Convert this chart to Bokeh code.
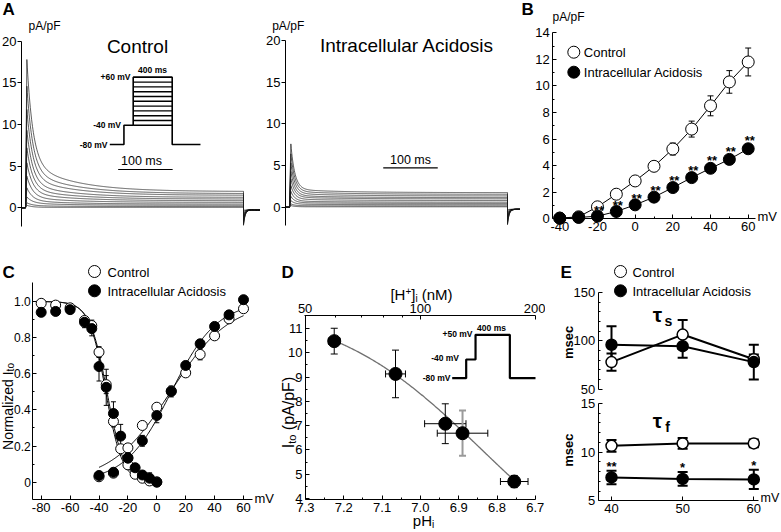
import numpy as np
from bokeh.plotting import figure
from bokeh.models import Range1d, FixedTicker, Label, LinearAxis
from bokeh.layouts import row, column
from bokeh.embed import file_html
from bokeh.resources import INLINE
from bokeh.core.properties import value

FONT = "Liberation Sans"

# ---------------- data ----------------
# Panel A: Ito current traces (pA/pF) for test steps -40..+60 mV
A_STEP_MV = [-40, -30, -20, -10, 0, 10, 20, 30, 40, 50, 60]
A_CTRL_PEAK = [0.3, 0.6, 1.3, 2.4, 3.8, 5.4, 7.2, 9.3, 11.8, 14.6, 17.8]
A_CTRL_SS = [0.05, 0.15, 0.3, 0.45, 0.65, 0.85, 1.05, 1.25, 1.5, 1.7, 1.95]
A_CTRL_SLOW = [0.0, 0.1, 0.25, 0.4, 0.6, 0.9, 1.2, 1.6, 2.1, 2.7, 3.5]
A_ACID_PEAK = [0.2, 0.4, 0.8, 1.3, 1.9, 2.6, 3.4, 4.3, 5.3, 6.4, 7.6]
A_ACID_SS = [0.05, 0.15, 0.3, 0.45, 0.6, 0.8, 1.0, 1.15, 1.35, 1.55, 1.75]
A_ACID_SLOW = [0.0, 0.03, 0.06, 0.1, 0.13, 0.17, 0.2, 0.25, 0.3, 0.35, 0.4]
A_TAIL = [-0.3, -0.5, -0.7, -0.9, -1.1, -1.3, -1.5, -1.7, -1.9, -2.0, -2.1]
A_TAIL_END = -0.25
A_TAU_CTRL = (10.8, 80.0)   # fast, slow (ms)
A_TAU_ACID = (7.3, 90.0)
A_PULSE_MS = 400.0
A_PEAK_MS = 2.5
A_YTICKS = [0, 5, 10, 15, 20]
# voltage protocol (inset)
A_PROT_T = [0, 145, 145, 240, 240, 640, 640, 930]
A_PROT_V = [-80, -80, -40, -40, 60, 60, -80, -80]
A_PROT_STEP_T = [240, 640]

# Panel B: I-V relation
B_MV = [-40, -30, -20, -10, 0, 10, 20, 30, 40, 50, 60]
B_CTRL = [0.05, 0.15, 0.9, 1.85, 2.85, 3.95, 5.25, 6.75, 8.5, 10.3, 11.8]
B_CTRL_ERR = [0.02, 0.05, 0.1, 0.12, 0.22, 0.35, 0.45, 0.6, 0.75, 0.85, 1.05]
B_ACID = [0.05, 0.1, 0.2, 0.55, 1.05, 1.63, 2.35, 3.1, 3.8, 4.47, 5.27]
B_ACID_ERR = [0.02, 0.03, 0.05, 0.1, 0.12, 0.12, 0.15, 0.18, 0.18, 0.22, 0.25]
B_SIG = ["", "", "**", "**", "**", "**", "**", "**", "**", "**", "**"]
B_XTICKS = [-40, -20, 0, 20, 40, 60]
B_XMINOR = [-30, -10, 10, 30, 50]
B_YTICKS = [0, 2, 4, 6, 8, 10, 12, 14]
B_YMINOR = [1, 3, 5, 7, 9, 11, 13]

# Panel C: steady-state inactivation and activation
C_INACT_MV = [-80, -70, -60, -50, -45, -40, -35, -30, -25, -20, -15, -10, -5, 0]
C_INACT_CTRL = [0.99, 0.98, 0.965, 0.895, 0.867, 0.72, 0.54, 0.336, 0.185, 0.096, 0.044, 0.022, 0.007, 0.002]
C_INACT_CTRL_ERR = [0.005, 0.01, 0.01, 0.01, 0.03, 0.03, 0.05, 0.03, 0.02, 0.01, 0.01, 0.01, 0.005, 0.005]
C_INACT_ACID = [0.94, 0.945, 0.955, 0.885, 0.85, 0.64, 0.525, 0.38, 0.255, 0.135, 0.08, 0.04, 0.022, 0.0]
C_INACT_ACID_ERR = [0.01, 0.02, 0.02, 0.03, 0.04, 0.08, 0.1, 0.065, 0.065, 0.03, 0.02, 0.02, 0.03, 0.02]
C_ACT_MV = [-40, -30, -20, -10, 0, 10, 20, 30, 40, 50, 60]
C_ACT_CTRL = [0.03, 0.05, 0.19, 0.314, 0.415, 0.505, 0.605, 0.707, 0.81, 0.904, 0.96]
C_ACT_CTRL_ERR = [0.005, 0.005, 0.01, 0.01, 0.02, 0.02, 0.02, 0.03, 0.01, 0.01, 0.01]
C_ACT_ACID = [0.037, 0.055, 0.133, 0.229, 0.369, 0.502, 0.646, 0.766, 0.862, 0.926, 1.01]
C_ACT_ACID_ERR = [0.01, 0.01, 0.02, 0.03, 0.04, 0.03, 0.02, 0.02, 0.01, 0.01, 0.005]
C_FIT_INACT_CTRL = (-34.5, 6.0)   # V1/2, k
C_FIT_INACT_ACID = (-35.3, 5.8)
C_FIT_ACT_CTRL = (9.5, 20.5)
C_FIT_ACT_ACID = (10.0, 16.0)
C_XTICKS = [-80, -60, -40, -20, 0, 20, 40, 60]
C_YTICKS = [0, 0.2, 0.4, 0.6, 0.8, 1.0]
C_YLABELS = ["0", "0.2", "0.4", "0.6", "0.8", "1.0"]
C_YMINOR = [0.1, 0.3, 0.5, 0.7, 0.9]

# Panel D: Ito vs pHi
D_PH = [7.225, 7.065, 6.935, 6.89, 6.755]
D_PH_ERR = [0.015, 0.026, 0.054, 0.066, 0.036]
D_ITO = [10.48, 9.13, 7.08, 6.69, 4.70]
D_ITO_ERR = [0.53, 0.98, 0.82, 0.93, 0.25]
D_FIT = (12.0, 6.839, 2.19)   # Imax, pK, n
D_XTICKS = [7.3, 7.2, 7.1, 7.0, 6.9, 6.8, 6.7]
D_XLABELS = ["7.3", "7.2", "7.1", "7.0", "6.9", "6.8", "6.7"]
D_XMINOR = [7.25, 7.15, 7.05, 6.95, 6.85, 6.75]
D_YTICKS = [4, 5, 6, 7, 8, 9, 10, 11]
D_YMINOR = [4.5, 5.5, 6.5, 7.5, 8.5, 9.5, 10.5]
D_TOP_NM = [50, 100, 200]
D_TOP_MINOR_NM = [60, 70, 80, 90]
D_PROT_T = [0, 163, 163, 272, 272, 672, 672, 1000]
D_PROT_V = [-80, -80, -40, -40, 50, 50, -80, -80]

# Panel E: inactivation time constants
E_MV = [40, 50, 60]
E_TS_CTRL = [78, 106.5, 81]
E_TS_CTRL_ERR = [9, 15, 5]
E_TS_ACID = [96, 94.5, 78]
E_TS_ACID_ERR = [19, 12, 18]
E_TF_CTRL = [10.65, 10.9, 10.9]
E_TF_CTRL_ERR = [0.6, 0.55, 0.4]
E_TF_ACID = [7.4, 7.25, 7.2]
E_TF_ACID_ERR = [0.7, 0.7, 1.0]
E_SIG = ["**", "*", "*"]
E_XTICKS = [40, 50, 60]
E_TS_TICKS = [50, 100, 150]
E_TS_MINOR = [60, 70, 80, 90, 110, 120, 130, 140]
E_TF_TICKS = [5, 10, 15]
E_TF_MINOR = [6, 7, 8, 9, 11, 12, 13, 14]


# ---------------- layout geometry ----------------
def panel(fig_x, fig_y, w, h, axr, axv, kx, ayr, ayv, ky):
    """Figure rectangle in page px; mapping of page px -> data."""
    x_start = axv - (axr - fig_x) / kx
    y_top = ayv + (ayr - fig_y) / ky
    return dict(w=w, h=h, axr=axr, axv=axv, kx=kx, ayr=ayr, ayv=ayv, ky=ky,
                x0=x_start, x1=x_start + w / kx, y1=y_top, y0=y_top - h / ky)


PA1 = panel(0, 0, 260, 262, 25, 0.0, 0.545, 207.3, 0.0, 8.33)
PA2 = panel(260, 0, 260, 262, 289, 0.0, 0.545, 206.7, 0.0, 8.33)
PB = panel(520, 0, 260, 262, 559.3, -40.0, 1.884, 218.3, 0.0, 13.29)
PC = panel(0, 262, 275, 268, 156.3, 0.0, 1.445, 481.7, 0.0, 180.7)
PD = panel(275, 262, 270, 268, 305, 7.3, -383.0, 328, 11.0, 24.29)
PE1 = panel(545, 262, 235, 134, 611, 40.0, 7.115, 292, 150.0, 0.967)
PE2 = panel(545, 396, 235, 134, 611, 40.0, 7.115, 403, 15.0, 9.73)


def R(P, rx, ry):
    return (P["axv"] + (rx - P["axr"]) / P["kx"], P["ayv"] - (ry - P["ayr"]) / P["ky"])


def make_fig(P):
    p = figure(width=P["w"], height=P["h"],
               x_range=Range1d(P["x0"], P["x1"]), y_range=Range1d(P["y0"], P["y1"]),
               output_backend="svg", toolbar_location=None,
               x_axis_location=None, y_axis_location=None,
               min_border=0, min_border_left=0, min_border_right=0,
               min_border_top=0, min_border_bottom=0)
    p.xgrid.visible = False
    p.ygrid.visible = False
    p.outline_line_color = None
    p.background_fill_color = "white"
    p.border_fill_color = "white"
    return p


def add_axis(p, side, loc, ticks, bounds, labels=None, minor=(), tin=4, tout=0,
             mtin=2, mtout=0, standoff=3, size="13px"):
    ax = LinearAxis(fixed_location=loc)
    ax.ticker = FixedTicker(ticks=list(ticks), minor_ticks=list(minor))
    if labels is not None:
        ax.major_label_overrides = {float(t): l for t, l in zip(ticks, labels)}
    ax.major_tick_in = tin
    ax.major_tick_out = tout
    ax.minor_tick_in = mtin
    ax.minor_tick_out = mtout
    ax.major_tick_line_color = "black"
    ax.minor_tick_line_color = "black"
    ax.axis_line_color = "black"
    ax.axis_line_width = 1
    ax.major_label_text_font = FONT
    ax.major_label_text_font_size = size
    ax.major_label_text_color = "black"
    ax.major_label_standoff = standoff
    ax.bounds = (min(bounds), max(bounds))
    p.add_layout(ax, side)
    return ax


def text(p, P, rx, ry, s, size=13, align="left", baseline="middle", bold=False,
         angle=0.0, font=FONT, color="black"):
    x, y = R(P, rx, ry)
    p.add_layout(Label(x=x, y=y, text=s, text_font=font, text_font_size=f"{size}px",
                       text_align=align, text_baseline=baseline,
                       text_font_style="bold" if bold else "normal",
                       angle=angle, text_color=color))


W = {' ': 278, '(': 333, ')': 333, '/': 278, 'A': 667, 'F': 611, 'I': 278, 'N': 722,
     'H': 722, 'M': 833, 'a': 556, 'd': 556, 'e': 556, 'i': 222, 'l': 222, 'm': 833,
     'n': 556, 'o': 556, 'p': 556, 'r': 333, 't': 278, 'z': 500, '[': 278, ']': 278,
     '+': 584}


def tw(s, size):
    return sum(W.get(c, 556) for c in s) * size / 1000.0


def htext(p, P, rx_center, ry, pieces):
    total = sum(tw(s, sz) for s, sz, dy in pieces)
    x = rx_center - total / 2
    for s, sz, dy in pieces:
        lead = len(s) - len(s.lstrip(" "))
        x += tw(" " * lead, sz)
        text(p, P, x, ry + dy, s.strip(" "), size=sz)
        x += tw(s.lstrip(" "), sz)


def vtext(p, P, rx, ry_center, pieces):
    total = sum(tw(s, sz) for s, sz, dx in pieces)
    y = ry_center + total / 2
    for s, sz, dx in pieces:
        lead = len(s) - len(s.lstrip(" "))
        y -= tw(" " * lead, sz)
        text(p, P, rx + dx, y, s.strip(" "), size=sz, angle=np.pi / 2)
        y -= tw(s.lstrip(" "), sz)


def errbars(p, x, y, e, vertical=True, cap=7, color="black", width=1.0):
    x = np.asarray(x, float)
    y = np.asarray(y, float)
    e = np.asarray(e, float)
    if vertical:
        p.segment(x, y - e, x, y + e, line_color=color, line_width=width)
        p.scatter(np.r_[x, x], np.r_[y - e, y + e], marker="dash", size=cap,
                  line_color=color, line_width=width)
    else:
        p.segment(x - e, y, x + e, y, line_color=color, line_width=width)
        p.scatter(np.r_[x - e, x + e], np.r_[y, y], marker="dash", size=cap, angle=np.pi / 2,
                  line_color=color, line_width=width)


def markers(p, x, y, filled, size=11, lw=1.0):
    p.scatter(x, y, marker="circle", size=size, line_color="black", line_width=lw,
              fill_color="black" if filled else "white")


def trace(peak, ss, slow, tail, taus):
    tf, ts = taus
    t1 = np.linspace(0, A_PULSE_MS - A_PEAK_MS, 500)
    y1 = (peak - slow - ss) * np.exp(-t1 / tf) + slow * np.exp(-t1 / ts) + ss
    t2 = np.linspace(0, 60, 120)
    y2 = tail * np.exp(-t2 / 3.0) + A_TAIL_END * (1 - np.exp(-t2 / 3.0))
    t = np.concatenate([[-7.3, 0.0], A_PEAK_MS + t1, A_PULSE_MS + t2])
    y = np.concatenate([[0.0, 0.0], y1, y2])
    return list(t), list(y)


# ---------------- Panel A ----------------
def panel_a(P, ref_axis_x, peaks, sss, slows, taus):
    p = make_fig(P)
    xloc = R(P, ref_axis_x, 0)[0]
    add_axis(p, "left", xloc, A_YTICKS, bounds=(-2.2, 20), tin=0, tout=4, mtin=0, mtout=0,
             standoff=1)
    xs, ys = [], []
    for k in range(len(A_STEP_MV)):
        t, y = trace(peaks[k], sss[k], slows[k], A_TAIL[k], taus)
        xs.append(t)
        ys.append(y)
    p.multi_line(xs, ys, line_color="#1a1a1a", line_width=0.7)
    return p


pa1 = panel_a(PA1, 21, A_CTRL_PEAK, A_CTRL_SS, A_CTRL_SLOW, A_TAU_CTRL)
text(pa1, PA1, 2, 9, "A", size=17, bold=True)
text(pa1, PA1, 28, 25, "pA/pF", size=12)
text(pa1, PA1, 137, 46, "Control", size=19, align="center")
sb_y = R(PA1, 0, 169)[1]
pa1.line([170, 270], [sb_y, sb_y], line_color="black", line_width=1.2)
text(pa1, PA1, 141, 160, "100 ms", size=12.5, align="center")
A_IN_O = (109.3, 144.0)
A_IN_S = (0.0975, 0.48)


def a_in(t, v):
    return R(PA1, A_IN_O[0] + t * A_IN_S[0], A_IN_O[1] - (v + 80) * A_IN_S[1])


pts = [a_in(t, v) for t, v in zip(A_PROT_T, A_PROT_V)]
pa1.line([q[0] for q in pts], [q[1] for q in pts], line_color="black", line_width=1.6)
sx_ = [[a_in(A_PROT_STEP_T[0], v)[0], a_in(A_PROT_STEP_T[1], v)[0]] for v in A_STEP_MV]
sy_ = [[a_in(A_PROT_STEP_T[0], v)[1], a_in(A_PROT_STEP_T[1], v)[1]] for v in A_STEP_MV]
pa1.multi_line(sx_, sy_, line_color="black", line_width=1.4)
text(pa1, PA1, 130, 76.5, "+60 mV", size=8.5, bold=True, align="right")
text(pa1, PA1, 120.5, 124, "-40 mV", size=8.5, bold=True, align="right")
text(pa1, PA1, 107, 144, "-80 mV", size=8.5, bold=True, align="right")
text(pa1, PA1, 152, 74, "400 ms", size=8.5, bold=True, align="center", baseline="bottom")

pa2 = panel_a(PA2, 285, A_ACID_PEAK, A_ACID_SS, A_ACID_SLOW, A_TAU_ACID)
text(pa2, PA2, 271.7, 25, "pA/pF", size=12)
text(pa2, PA2, 406.5, 45, "Intracellular Acidosis", size=19, align="center")
sb_y2 = R(PA2, 0, 167.3)[1]
pa2.line([172, 272], [sb_y2, sb_y2], line_color="black", line_width=1.2)
text(pa2, PA2, 410, 159, "100 ms", size=12.5, align="center")

# ---------------- Panel B ----------------
pb = make_fig(PB)
b_yax_x = R(PB, 552.3, 0)[0]
b_xend = R(PB, 755, 0)[0]
add_axis(pb, "below", 0.0, B_XTICKS, bounds=(b_yax_x, b_xend),
         labels=[str(v) for v in B_XTICKS], minor=B_XMINOR)
add_axis(pb, "left", b_yax_x, B_YTICKS, bounds=(0, 14), minor=B_YMINOR)
pb.line(B_MV, B_CTRL, line_color="black", line_width=1)
pb.line(B_MV, B_ACID, line_color="black", line_width=1)
errbars(pb, B_MV, B_CTRL, B_CTRL_ERR, cap=6)
errbars(pb, B_MV, B_ACID, B_ACID_ERR, cap=6)
markers(pb, B_MV, B_CTRL, False, size=12)
markers(pb, B_MV, B_ACID, True, size=12)
sig_x = [m + 0.8 for m, s in zip(B_MV, B_SIG) if s]
sig_y = [v + e + 0.38 for v, e, s in zip(B_ACID, B_ACID_ERR, B_SIG) if s]
pb.text(sig_x, sig_y, text=[s for s in B_SIG if s], text_font=value(FONT), text_font_size="13px",
        text_font_style="bold", text_align="center", text_baseline="middle", text_color="black")
lx, ly1 = R(PB, 573.3, 51.7)
_, ly2 = R(PB, 573.3, 71.7)
markers(pb, [lx], [ly1], False, size=12)
markers(pb, [lx], [ly2], True, size=12)
text(pb, PB, 583.3, 52, "Control", size=13)
text(pb, PB, 583.3, 72, "Intracellular Acidosis", size=13)
text(pb, PB, 521, 9, "B", size=17, bold=True)
text(pb, PB, 552, 16, "pA/pF", size=12)
text(pb, PB, 757, 216, "mV", size=13)

# ---------------- Panel C ----------------
pc = make_fig(PC)
c_yax_x = R(PC, 32.3, 0)[0]
c_xax_y = R(PC, 0, 499.3)[1]
c_xend = R(PC, 252, 0)[0]
add_axis(pc, "below", c_xax_y, C_XTICKS, bounds=(c_yax_x, c_xend), labels=[str(v) for v in C_XTICKS])
add_axis(pc, "left", c_yax_x, C_YTICKS, bounds=(c_xax_y, 1.105), labels=C_YLABELS,
         minor=C_YMINOR, size="12px", standoff=2)
vi = np.linspace(-80, 0, 200)
va = np.linspace(-40, 60, 200)
for vh, k in (C_FIT_INACT_CTRL, C_FIT_INACT_ACID):
    pc.line(vi, 1 / (1 + np.exp((vi - vh) / k)), line_color="black", line_width=1)
for vh, k in (C_FIT_ACT_CTRL, C_FIT_ACT_ACID):
    pc.line(va, 1 / (1 + np.exp((vh - va) / k)), line_color="black", line_width=1)
errbars(pc, C_INACT_MV, C_INACT_CTRL, C_INACT_CTRL_ERR, cap=5)
errbars(pc, C_INACT_MV, C_INACT_ACID, C_INACT_ACID_ERR, cap=5)
errbars(pc, C_ACT_MV, C_ACT_CTRL, C_ACT_CTRL_ERR, cap=5)
errbars(pc, C_ACT_MV, C_ACT_ACID, C_ACT_ACID_ERR, cap=5)
markers(pc, C_INACT_MV, C_INACT_CTRL, False, size=10)
markers(pc, C_ACT_MV, C_ACT_CTRL, False, size=10)
markers(pc, C_INACT_MV, C_INACT_ACID, True, size=10)
markers(pc, C_ACT_MV, C_ACT_ACID, True, size=10)
lx, ly1 = R(PC, 94, 271)
_, ly2 = R(PC, 94, 290.3)
markers(pc, [lx], [ly1], False, size=12)
markers(pc, [lx], [ly2], True, size=12)
text(pc, PC, 107, 271.5, "Control", size=13)
text(pc, PC, 107, 290.8, "Intracellular Acidosis", size=13)
text(pc, PC, 2, 272, "C", size=17, bold=True)
text(pc, PC, 254, 498, "mV", size=13)
vtext(pc, PC, 7.5, 406, [("Normalized I", 14, 0), ("to", 10, 2.5)])

# ---------------- Panel D ----------------
pd_ = make_fig(PD)
d_bot = R(PD, 0, 499.3)[1]
d_top = R(PD, 0, 314.7)[1]
d_right = R(PD, 535, 0)[0]
top_ticks = [9 - np.log10(v) for v in D_TOP_NM]
add_axis(pd_, "below", d_bot, D_XTICKS, bounds=(7.3, d_right), labels=D_XLABELS, minor=D_XMINOR)
add_axis(pd_, "left", 7.3, D_YTICKS, bounds=(d_bot, d_top), minor=D_YMINOR)
add_axis(pd_, "above", d_top, top_ticks, bounds=(min(top_ticks) - 0.0005, max(top_ticks) + 0.0005),
         labels=[str(v) for v in D_TOP_NM], minor=[9 - np.log10(v) for v in D_TOP_MINOR_NM],
         standoff=2)
ph = np.linspace(D_PH[0], D_PH[-1], 200)
imax, pk, nh = D_FIT
pd_.line(ph, imax / (1 + 10 ** (nh * (pk - ph))), line_color="#707070", line_width=1.3)
errbars(pd_, D_PH, D_ITO, D_PH_ERR, vertical=False, cap=7)
errbars(pd_, D_PH[:3] + D_PH[4:], D_ITO[:3] + D_ITO[4:], D_ITO_ERR[:3] + D_ITO_ERR[4:], cap=7)
errbars(pd_, D_PH[3:4], D_ITO[3:4], D_ITO_ERR[3:4], cap=7, color="#9a9a9a", width=2)
markers(pd_, D_PH, D_ITO, True, size=13)
D_IN_O = (451.7, 377.7)
D_IN_SX = 0.0858
D_LEV_MV = [-80, -40, 50]
D_LEV_PX = [0, 18.7, 43.4]


def d_in(t, v):
    return R(PD, D_IN_O[0] + t * D_IN_SX, D_IN_O[1] - np.interp(v, D_LEV_MV, D_LEV_PX))


pts = [d_in(t, v) for t, v in zip(D_PROT_T, D_PROT_V)]
pts = [(max(x, d_right), y) for x, y in pts]
pd_.line([q[0] for q in pts], [q[1] for q in pts], line_color="black", line_width=2.2)
text(pd_, PD, 472, 333.5, "+50 mV", size=8.5, bold=True, align="right")
text(pd_, PD, 458.5, 357.5, "-40 mV", size=8.5, bold=True, align="right")
text(pd_, PD, 450, 377.5, "-80 mV", size=8.5, bold=True, align="right")
text(pd_, PD, 491, 332.5, "400 ms", size=8.5, bold=True, align="center", baseline="bottom")
text(pd_, PD, 281, 272, "D", size=17, bold=True)
htext(pd_, PD, 421, 294, [("[H", 15, 0), ("+", 10, -4), ("]", 15, 0), ("i", 10, 4), (" (nM)", 15, 0)])
htext(pd_, PD, 423, 520, [("pH", 15, 0), ("i", 10, 4)])
vtext(pd_, PD, 288, 412, [("I", 16, 0), ("to", 11, 3), (" (pA/pF)", 16, 0)])

# ---------------- Panel E ----------------
e_yax_x = R(PE1, 597.7, 0)[0]
e_xend = R(PE1, 758, 0)[0]
pe1 = make_fig(PE1)
add_axis(pe1, "left", e_yax_x, E_TS_TICKS, bounds=(50, 150), minor=E_TS_MINOR)
pe1.line(E_MV, E_TS_CTRL, line_color="black", line_width=2)
pe1.line(E_MV, E_TS_ACID, line_color="black", line_width=2)
errbars(pe1, E_MV, E_TS_CTRL, E_TS_CTRL_ERR, cap=10, width=2)
errbars(pe1, E_MV, E_TS_ACID, E_TS_ACID_ERR, cap=10, width=2)
markers(pe1, E_MV, E_TS_CTRL, False, size=11, lw=1.5)
markers(pe1, E_MV, E_TS_ACID, True, size=11, lw=1.5)
lx, ly1 = R(PE1, 620, 271)
_, ly2 = R(PE1, 620, 290.3)
markers(pe1, [lx], [ly1], False, size=12)
markers(pe1, [lx], [ly2], True, size=12)
text(pe1, PE1, 632, 271.5, "Control", size=13)
text(pe1, PE1, 632, 290.8, "Intracellular Acidosis", size=13)
text(pe1, PE1, 560, 272, "E", size=17, bold=True)
text(pe1, PE1, 657, 314, "\u03c4", size=21, bold=True, align="center")
text(pe1, PE1, 668, 320, "s", size=14, bold=True, align="center")
text(pe1, PE1, 568, 342, "msec", size=13, bold=True, align="center", angle=np.pi / 2)

pe2 = make_fig(PE2)
add_axis(pe2, "below", 5.0, E_XTICKS, bounds=(e_yax_x, e_xend))
add_axis(pe2, "left", e_yax_x, E_TF_TICKS, bounds=(5, 15), minor=E_TF_MINOR)
pe2.line(E_MV, E_TF_CTRL, line_color="black", line_width=2)
pe2.line(E_MV, E_TF_ACID, line_color="black", line_width=2)
errbars(pe2, E_MV, E_TF_CTRL, E_TF_CTRL_ERR, cap=10, width=2)
errbars(pe2, E_MV, E_TF_ACID, E_TF_ACID_ERR, cap=10, width=2)
markers(pe2, E_MV, E_TF_CTRL, False, size=11, lw=1.5)
markers(pe2, E_MV, E_TF_ACID, True, size=11, lw=1.5)
pe2.text(E_MV, [v + e + 0.45 for v, e in zip(E_TF_ACID, E_TF_ACID_ERR)], text=E_SIG,
         text_font=value(FONT), text_font_size="13px", text_font_style="bold",
         text_align="center", text_baseline="middle", text_color="black")
text(pe2, PE2, 657, 420, "\u03c4", size=21, bold=True, align="center")
text(pe2, PE2, 667, 426, "f", size=14, bold=True, align="center")
text(pe2, PE2, 568, 449.7, "msec", size=13, bold=True, align="center", angle=np.pi / 2)
text(pe2, PE2, 760, 497, "mV", size=12.5)

layout = column(row(pa1, pa2, pb), row(pc, pd_, column(pe1, pe2)))
open("out.html", "w").write(file_html(layout, INLINE))
